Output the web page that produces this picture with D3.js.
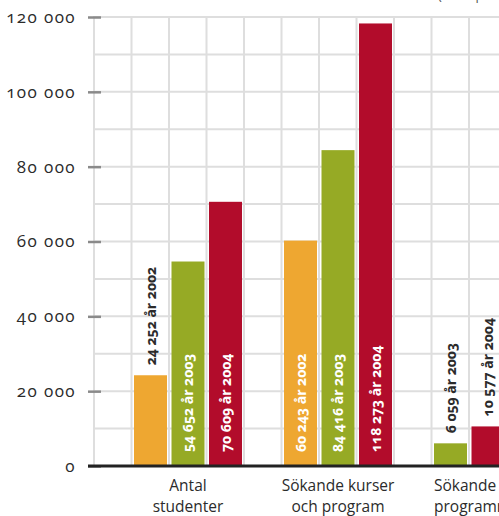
<!DOCTYPE html>
<html>
<head>
<meta charset="utf-8">
<script src="https://cdn.jsdelivr.net/npm/d3@7"></script>
<style>
  html, body { margin: 0; padding: 0; background: #fff; overflow: hidden; }
  svg text { font-family: "Open Sans", "Noto Sans", sans-serif; font-variant-numeric: oldstyle-nums; font-feature-settings: "onum" 1; }
</style>
</head>
<body>
<div id="chart"></div>
<script>
// data
const categories = ['Antal studenter', 'Sökande kurser och program', 'Sökande till programmet'];
const categoryLines = [['Antal', 'studenter'], ['Sökande kurser', 'och program'], ['Sökande till', 'programmet']];
const years = ['2002', '2003', '2004'];
const antalStudenter = [24252, 54652, 70609];
const sokandeKurser = [60243, 84416, 118273];
const sokandeProgram = [null, 6059, 10577];
const yTicks = [0, 20000, 40000, 60000, 80000, 100000, 120000];
const colors = ['#eea731', '#96aa25', '#b20c2b'];

const seriesByCat = [antalStudenter, sokandeKurser, sokandeProgram];

var width = 499, height = 516;

var svg = d3.select('#chart').append('svg')
  .attr('width', width)
  .attr('height', height);

var y = d3.scaleLinear().domain([0, 120000]).range([466, 17]);
var x0 = d3.scaleBand().domain(categories).range([113, 563]);
var color = d3.scaleOrdinal().domain(years).range(colors);
var step = 37.5;

// bars of one group are packed from the left, a missing year leaves no hole
function subScale(i) {
  var present = years.filter((yr, j) => seriesByCat[i][j] != null);
  return d3.scaleBand().domain(present)
    .range([18.75, 18.75 + step * present.length])
    .paddingInner(0.12).paddingOuter(0.06);
}

// grid
var grid = svg.append('g');
grid.selectAll('line.h')
  .data(d3.range(0, 120001, 10000))
  .enter().append('line')
  .attr('x1', 94).attr('x2', width + 10)
  .attr('y1', d => y(d)).attr('y2', d => y(d))
  .attr('stroke', '#dedede').attr('stroke-width', 2);
grid.selectAll('line.v')
  .data(d3.range(0, 12))
  .enter().append('line')
  .attr('x1', d => 94 + d * step).attr('x2', d => 94 + d * step)
  .attr('y1', y(120000) - 1).attr('y2', y(0))
  .attr('stroke', '#dedede').attr('stroke-width', 2);

// y axis with the short grey ticks
var yAxis = d3.axisLeft(y)
  .tickValues(yTicks)
  .tickSize(13)
  .tickPadding(12)
  .tickFormat(d => d3.format(',')(d).replace(/,/g, ' '));
var ax = svg.append('g').attr('transform', 'translate(101,0)').call(yAxis);
ax.select('.domain').remove();
ax.selectAll('.tick line').attr('stroke', '#8a8a8a').attr('stroke-width', 2.5);
ax.selectAll('.tick text').attr('fill', '#2b2b2b')
  .style('font-size', '17px').style('letter-spacing', '1.4px');

// bars
var rows = [];
categories.forEach((c, i) => {
  var x1 = subScale(i);
  years.forEach((yr, j) => {
    if (seriesByCat[i][j] != null)
      rows.push({ cat: c, year: yr, value: seriesByCat[i][j], x: x0(c) + x1(yr), w: x1.bandwidth() });
  });
});

var groups = svg.append('g');
groups.selectAll('rect')
  .data(rows)
  .enter().append('rect')
  .attr('x', d => d.x)
  .attr('y', d => y(d.value))
  .attr('width', d => d.w)
  .attr('height', d => y(0) - y(d.value))
  .attr('fill', d => color(d.year));

// value labels, rotated; inside the bar when it is tall enough
function isInside(d) { return y(0) - y(d.value) > 120; }
groups.selectAll('text')
  .data(rows)
  .enter().append('text')
  .attr('transform', d => {
    var cx = d.x + d.w / 2;
    var ty = isInside(d) ? y(0) - 14 : y(d.value) - 10;
    return 'translate(' + cx + ',' + ty + ') rotate(-90)';
  })
  .attr('dy', '0.36em')
  .attr('fill', d => isInside(d) ? '#fff' : '#2b2b2b')
  .style('font-size', '14px')
  .style('font-weight', 'bold')
  .text(d => d3.format(',')(d.value).replace(/,/g, ' ') + ' år ' + d.year);

// baseline
svg.append('line')
  .attr('x1', 88).attr('x2', width + 10)
  .attr('y1', y(0)).attr('y2', y(0))
  .attr('stroke', '#222').attr('stroke-width', 3);

// category labels, one text per line
var cl = svg.append('g');
categories.forEach((c, i) => {
  var cx = x0(c) + x0.bandwidth() / 2;
  cl.selectAll('text.c' + i)
    .data(categoryLines[i])
    .enter().append('text')
    .attr('x', i == 2 ? 434 : cx)
    .attr('y', (d, k) => 490.5 + k * 21.5)
    .attr('text-anchor', i == 2 ? 'start' : 'middle')
    .attr('fill', '#2b2b2b')
    .style('font-size', '15.5px')
    .text(d => d);
});

// unit note, cut off at the top edge
svg.append('text')
  .attr('x', 438).attr('y', 0)
  .attr('fill', '#555')
  .style('font-size', '13px')
  .text('(antal per år)');
</script>
</body>
</html>
